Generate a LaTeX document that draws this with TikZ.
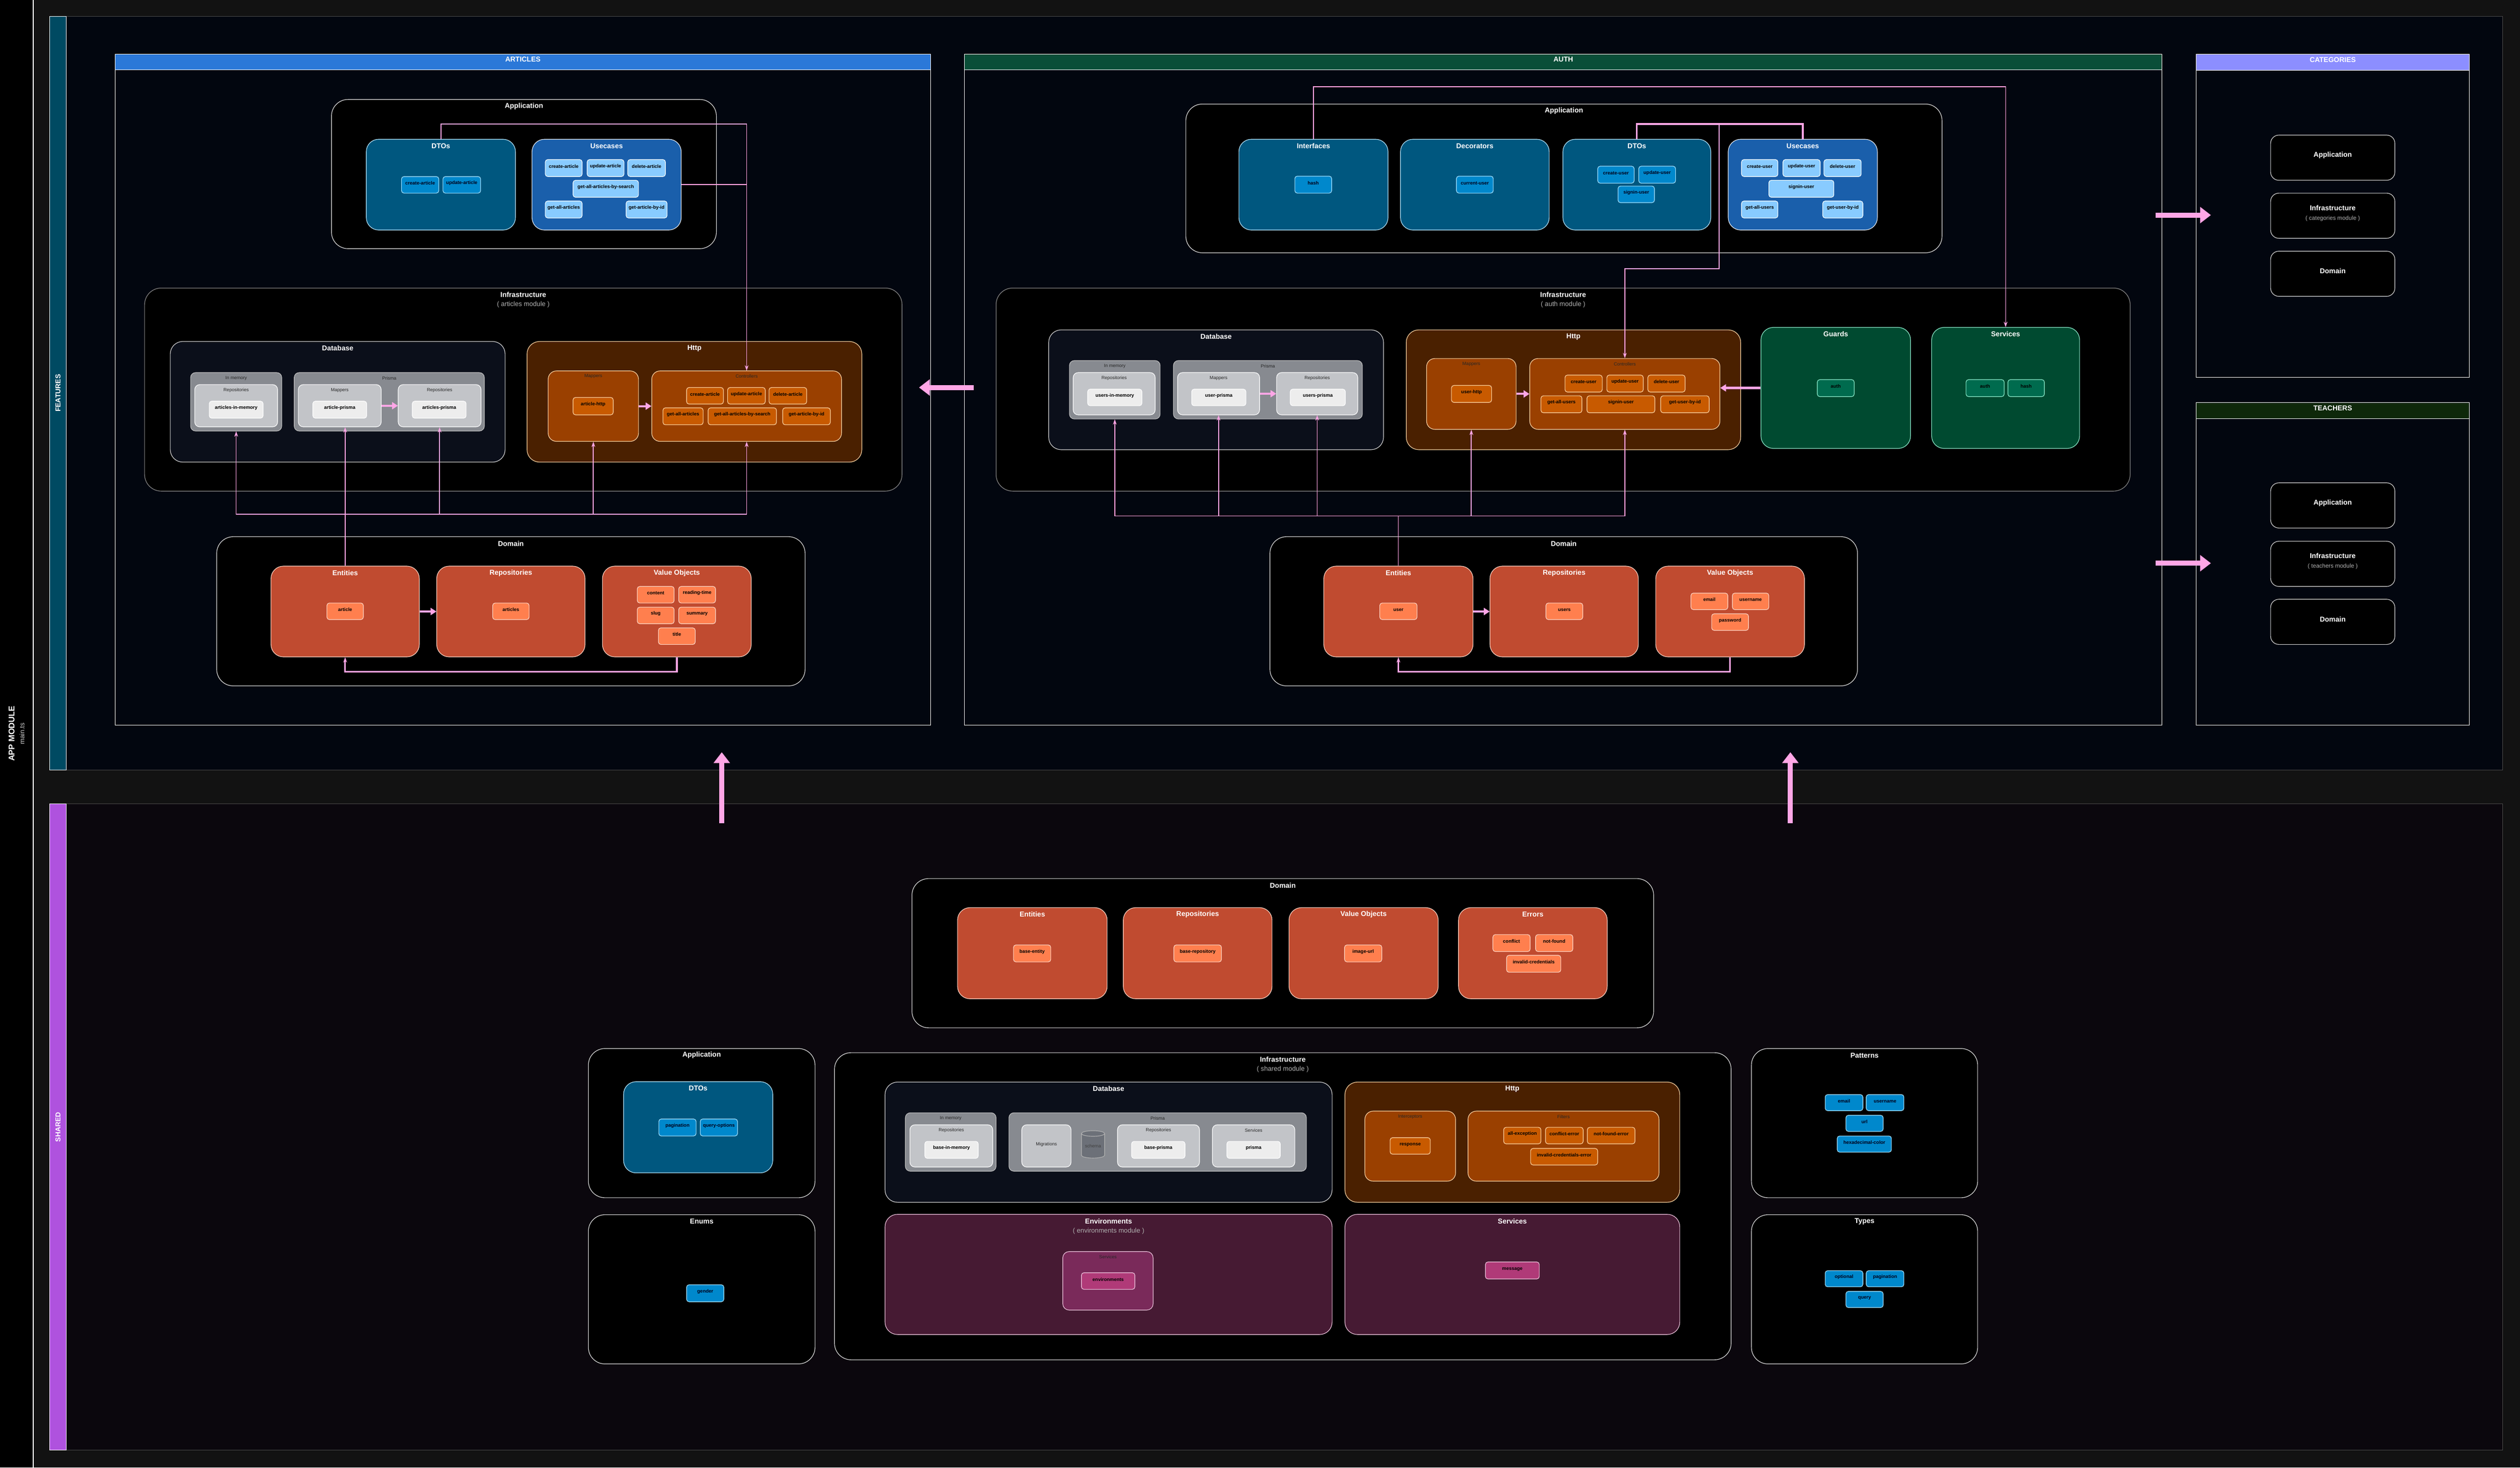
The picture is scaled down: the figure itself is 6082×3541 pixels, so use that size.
\documentclass[tikz,border=0pt]{standalone}
\usepackage{fontspec}
\setmainfont{Liberation Sans}
\usetikzlibrary{arrows.meta,fit,positioning,shapes.geometric}

\definecolor{outerC}{HTML}{121212}
\definecolor{featC}{HTML}{02060F}
\definecolor{featBC}{HTML}{004A62}
\definecolor{shC}{HTML}{0B070D}
\definecolor{shBC}{HTML}{AF52DE}
\definecolor{artC}{HTML}{2B78D8}
\definecolor{authC}{HTML}{0A4E38}
\definecolor{catC}{HTML}{8C8EFF}
\definecolor{teaC}{HTML}{0E280A}
\definecolor{subC}{HTML}{AFAFAF}
\definecolor{dtoC}{HTML}{00577F}
\definecolor{dtoIC}{HTML}{0088CC}
\definecolor{dtoL}{HTML}{A6E4FF}
\definecolor{ucC}{HTML}{1A5FAB}
\definecolor{ucIC}{HTML}{88CBFF}
\definecolor{dbC}{HTML}{0B0F1A}
\definecolor{dbMC}{HTML}{878A90}
\definecolor{dbLC}{HTML}{C2C4C8}
\definecolor{dbIC}{HTML}{EDEDED}
\definecolor{schC}{HTML}{6C7078}
\definecolor{htC}{HTML}{4A2000}
\definecolor{htMC}{HTML}{9A4000}
\definecolor{htIC}{HTML}{C85A00}
\definecolor{htL}{HTML}{FFD9A6}
\definecolor{doC}{HTML}{C04B30}
\definecolor{doIC}{HTML}{FF7F4E}
\definecolor{doL}{HTML}{FFD8C8}
\definecolor{grC}{HTML}{004A30}
\definecolor{grIC}{HTML}{006B4E}
\definecolor{grL}{HTML}{8FF0D0}
\definecolor{enC}{HTML}{461A33}
\definecolor{enMC}{HTML}{7A2A5A}
\definecolor{enIC}{HTML}{B03A78}
\definecolor{enL}{HTML}{F0C8E0}
\definecolor{pinkC}{HTML}{FFA6E6}

\newcommand{\fapp}{\fontsize{20}{22}\selectfont\bfseries}
\newcommand{\fhead}{\fontsize{17}{20}\selectfont\bfseries}
\newcommand{\ftitle}{\fontsize{17}{20}\selectfont\bfseries}
\newcommand{\fsub}{\fontsize{16}{19}\selectfont}
\newcommand{\fitem}{\fontsize{11.5}{13}\selectfont\bfseries}
\newcommand{\flab}{\fontsize{11}{13}\selectfont}

\begin{document}
\begin{tikzpicture}[
    x=1pt, y=-1pt,
    >={Stealth[length=13pt,width=9pt]},
    every node/.style={inner sep=0pt, font=\fitem, align=center},
    rbox/.style={draw, line width=1.4pt, rounded corners=#1},
    rbox/.default=30pt,
    hd/.style={label={[font=\ftitle, text=white, anchor=center, yshift=-17pt]north:{#1}}},
    hs/.style={label={[font=\fsub, text=subC, anchor=center, yshift=-41pt]north:{#1}}},
    hl/.style={label={[font=\flab, text=black!85, anchor=center, yshift=-14pt]north:{#1}}},
    frm/.style={draw=white, line width=1.4pt},
    hdr/.style={draw=white, line width=1.2pt, font=\fhead, text=white},
    sect/.style={rbox=40pt, fill=black, draw=white!90!black},
    isect/.style={sect, draw=white!55!black},
    cbox/.style={rbox=20pt, fill=black, draw=white!85!black, font=\fontsize{17}{23}\selectfont\bfseries, text=white},
    dtoB/.style={rbox, fill=dtoC, draw=dtoL!80},
    ucB/.style={rbox, fill=ucC, draw=white!90!ucC},
    dbB/.style={rbox, fill=dbC, draw=white!85!black},
    dbM/.style={rbox=12pt, fill=dbMC, draw=white!75!black},
    dbL/.style={rbox=12pt, fill=dbLC, draw=white},
    htB/.style={rbox, fill=htC, draw=htL},
    htM/.style={rbox=20pt, fill=htMC, draw=htL},
    doB/.style={rbox, fill=doC, draw=doL},
    grB/.style={rbox, fill=grC, draw=grL},
    enB/.style={rbox, fill=enC, draw=enL},
    enM/.style={rbox=15pt, fill=enMC, draw=enL},
    dItm/.style={rbox=6pt, fill=dtoIC, draw=dtoL, text=black!90!blue},
    uItm/.style={rbox=6pt, fill=ucIC, draw=white, text=black},
    bItm/.style={rbox=6pt, fill=dbIC, draw=white, text=black},
    hItm/.style={rbox=6pt, fill=htIC, draw=htL, text=black},
    oItm/.style={rbox=6pt, fill=doIC, draw=doL, text=black},
    gItm/.style={rbox=6pt, fill=grIC, draw=grL, text=black},
    eItm/.style={rbox=6pt, fill=enIC, draw=enL, text=black},
    conn/.style={draw=pinkC, line width=2pt},
    voLink/.style={conn, line width=4pt},
    flex/.style={draw=pinkC, line width=5pt, -{Triangle[length=14pt,width=17pt]}},
    big/.style={draw=pinkC, line width=12pt, -{Triangle[length=26pt,width=38pt]}}
]

% background and outer lanes
\fill[outerC] (0,0) rectangle (6082,3541);
\useasboundingbox (0,0) rectangle (6082,3541);
\node[fill=black, fit={(0,0)(80,3541)}] (appM) {};
\draw[white, line width=1.4pt] (appM.north east) -- (appM.south east);
\node[rotate=90, font=\fapp, text=white] at (28,1770) (appT) {APP MODULE};
\node[rotate=90, font=\fsub, text=white!80!black] at (53,1770) (appS) {main.ts};

\node[fill=featC, draw=white!30!black, line width=1pt, fit={(120,39)(6040,1858)}] (feat) {};
\node[fill=featBC, draw=white, line width=1pt, fit={(120,39)(160,1858)}] (featBand) {};
\node[rotate=90, font=\fhead, text=white] at (featBand) (featT) {FEATURES};

\node[fill=shC, draw=white!30!black, line width=1pt, fit={(120,1940)(6040,3499)}] (shr) {};
\node[fill=shBC, draw=white, line width=1pt, fit={(120,1940)(160,3499)}] (shrBand) {};
\node[rotate=90, font=\fhead, text=white] at (shrBand) (shrT) {SHARED};

% ---------------- articles ----------------
\node[frm, fit={(278,131)(2246,1750)}] (aFrm) {};
\node[hdr, fill=artC, fit={(278,131)(2246,168)}] (aHd) {ARTICLES};

\node[sect, hd=Application, fit={(800,240)(1729,600)}] (aApp) {};
\node[dtoB, hd=DTOs, fit={(884,336)(1244,555)}] (aDto) {};
\node[ucB, hd=Usecases, fit={(1284,336)(1644,555)}] (aUc) {};
\foreach \n/\t/\xa/\ya/\xb/\yb in {aDto1/create-article/969/426/1059/466,
        aDto2/update-article/1069/426/1160/466}
    \node[dItm, fit={(\xa,\ya)(\xb,\yb)}] (\n) {\t};
\foreach \n/\t/\xa/\ya/\xb/\yb in {aUc1/create-article/1316/385/1405/426,
        aUc2/update-article/1417/385/1506/426, aUc3/delete-article/1515/385/1606/426,
        aUc4/get-all-articles-by-search/1383/435/1541/476,
        aUc5/get-all-articles/1316/485/1405/526, aUc6/get-article-by-id/1511/485/1610/526}
    \node[uItm, fit={(\xa,\ya)(\xb,\yb)}] (\n) {\t};

\node[isect, hd=Infrastructure, hs={( articles module )}, fit={(349,695)(2177,1185)}] (aInf) {};
\node[dbB, hd=Database, fit={(411,824)(1219,1115)}] (aDb) {};
\node[dbM, hl=In memory, fit={(460,899)(680,1040)}] (aIm) {};
\node[dbL, hl=Repositories, fit={(470,928)(670,1030)}] (aImRepo) {};
\node[bItm, fit={(505,968)(635,1009)}] (aImI) {articles-in-memory};
\node[dbM, hl=Prisma, fit={(710,899)(1169,1040)}] (aPm) {};
\node[dbL, hl=Mappers, fit={(720,928)(920,1030)}] (aPmMap) {};
\node[bItm, fit={(755,968)(885,1009)}] (aPmMapI) {article-prisma};
\node[dbL, hl=Repositories, fit={(961,928)(1161,1030)}] (aPmRepo) {};
\node[bItm, fit={(995,968)(1125,1009)}] (aPmRepoI) {articles-prisma};

\node[htB, hd=Http, fit={(1272,824)(2080,1115)}] (aHttp) {};
\node[htM, hl=Mappers, fit={(1323,895)(1541,1065)}] (aHMap) {};
\node[hItm, fit={(1383,959)(1480,1001)}] (aHMapI) {article-http};
\node[htM, hl=Controllers, fit={(1573,895)(2031,1065)}] (aCtl) {};
\foreach \n/\t/\xa/\ya/\xb/\yb in {aCtl1/create-article/1657/935/1746/975,
        aCtl2/update-article/1756/935/1847/975, aCtl3/delete-article/1856/935/1947/975,
        aCtl4/get-all-articles/1600/984/1697/1025,
        aCtl5/get-all-articles-by-search/1709/984/1874/1025,
        aCtl6/get-article-by-id/1889/984/2004/1025}
    \node[hItm, fit={(\xa,\ya)(\xb,\yb)}] (\n) {\t};

\node[sect, hd=Domain, fit={(523,1295)(1943,1655)}] (aDom) {};
\node[doB, hd=Entities, fit={(654,1366)(1012,1585)}] (aEnt) {};
\node[doB, hd=Repositories, fit={(1054,1366)(1412,1585)}] (aRep) {};
\node[doB, hd=Value Objects, fit={(1454,1366)(1813,1585)}] (aVo) {};
\foreach \n/\t/\xa/\ya/\xb/\yb in {aEnt1/article/789/1455/877/1495,
        aRep1/articles/1189/1455/1277/1495,
        aVo1/content/1538/1415/1627/1455, aVo2/reading-time/1638/1415/1727/1455,
        aVo3/slug/1538/1465/1627/1505, aVo4/summary/1638/1465/1727/1505,
        aVo5/title/1589/1515/1678/1555}
    \node[oItm, fit={(\xa,\ya)(\xb,\yb)}] (\n) {\t};

% ---------------- auth ----------------
\node[frm, fit={(2328,131)(5218,1750)}] (uFrm) {};
\node[hdr, fill=authC, fit={(2328,131)(5218,168)}] (uHd) {AUTH};

\node[sect, hd=Application, fit={(2862,251)(4687,610)}] (uApp) {};
\node[dtoB, hd=Interfaces, fit={(2990,336)(3350,555)}] (uIf) {};
\node[dtoB, hd=Decorators, fit={(3380,336)(3739,555)}] (uDec) {};
\node[dtoB, hd=DTOs, fit={(3772,336)(4129,555)}] (uDto) {};
\node[ucB, hd=Usecases, fit={(4171,336)(4531,555)}] (uUc) {};
\foreach \n/\t/\xa/\ya/\xb/\yb in {uIf1/hash/3125/425/3214/466,
        uDec1/current-user/3515/425/3604/466,
        uDto1/create-user/3856/401/3944/442, uDto2/update-user/3955/401/4044/442,
        uDto3/signin-user/3905/449/3993/489}
    \node[dItm, fit={(\xa,\ya)(\xb,\yb)}] (\n) {\t};
\foreach \n/\t/\xa/\ya/\xb/\yb in {uUc1/create-user/4203/385/4291/426,
        uUc2/update-user/4303/385/4393/426, uUc3/delete-user/4402/385/4492/426,
        uUc4/signin-user/4269/435/4426/476,
        uUc5/get-all-users/4203/485/4291/526, uUc6/get-user-by-id/4399/485/4496/526}
    \node[uItm, fit={(\xa,\ya)(\xb,\yb)}] (\n) {\t};

\node[isect, hd=Infrastructure, hs={( auth module )}, fit={(2404,695)(5141,1185)}] (uInf) {};
\node[dbB, hd=Database, fit={(2531,796)(3339,1085)}] (uDb) {};
\node[dbM, hl=In memory, fit={(2581,870)(2800,1011)}] (uIm) {};
\node[dbL, hl=Repositories, fit={(2590,899)(2788,1001)}] (uImRepo) {};
\node[bItm, fit={(2625,939)(2756,979)}] (uImI) {users-in-memory};
\node[dbM, hl=Prisma, fit={(2832,870)(3288,1011)}] (uPm) {};
\node[dbL, hl=Mappers, fit={(2842,899)(3040,1001)}] (uPmMap) {};
\node[bItm, fit={(2876,939)(3007,979)}] (uPmMapI) {user-prisma};
\node[dbL, hl=Repositories, fit={(3081,899)(3277,1001)}] (uPmRepo) {};
\node[bItm, fit={(3114,939)(3247,979)}] (uPmRepoI) {users-prisma};

\node[htB, hd=Http, fit={(3394,796)(4201,1085)}] (uHttp) {};
\node[htM, hl=Mappers, fit={(3443,865)(3659,1036)}] (uHMap) {};
\node[hItm, fit={(3503,930)(3600,971)}] (uHMapI) {user-http};
\node[htM, hl=Controllers, fit={(3692,865)(4151,1036)}] (uCtl) {};
\foreach \n/\t/\xa/\ya/\xb/\yb in {uCtl1/create-user/3777/905/3867/946,
        uCtl2/update-user/3878/905/3966/946, uCtl3/delete-user/3977/905/4067/946,
        uCtl4/get-all-users/3719/955/3818/996, uCtl5/signin-user/3830/955/3994/996,
        uCtl6/get-user-by-id/4008/955/4125/996}
    \node[hItm, fit={(\xa,\ya)(\xb,\yb)}] (\n) {\t};

\node[grB, hd=Guards, fit={(4250,790)(4611,1082)}] (uGrd) {};
\node[grB, hd=Services, fit={(4662,790)(5019,1082)}] (uSrv) {};
\foreach \n/\t/\xa/\ya/\xb/\yb in {uGrd1/auth/4386/916/4475/957,
        uSrv1/auth/4745/916/4837/957, uSrv2/hash/4846/916/4934/957}
    \node[gItm, fit={(\xa,\ya)(\xb,\yb)}] (\n) {\t};

\node[sect, hd=Domain, fit={(3065,1295)(4483,1655)}] (uDom) {};
\node[doB, hd=Entities, fit={(3195,1366)(3555,1585)}] (uEnt) {};
\node[doB, hd=Repositories, fit={(3596,1366)(3954,1585)}] (uRep) {};
\node[doB, hd=Value Objects, fit={(3996,1366)(4355,1585)}] (uVo) {};
\foreach \n/\t/\xa/\ya/\xb/\yb in {uEnt1/user/3330/1455/3420/1495,
        uRep1/users/3731/1455/3820/1495,
        uVo1/email/4081/1431/4170/1471, uVo2/username/4181/1431/4269/1471,
        uVo3/password/4131/1481/4220/1521}
    \node[oItm, fit={(\xa,\ya)(\xb,\yb)}] (\n) {\t};

% ---------------- categories / teachers ----------------
\node[frm, fit={(5300,131)(5960,910)}] (cFrm) {};
\node[hdr, fill=catC, fit={(5300,131)(5960,170)}] (cHd) {CATEGORIES};
\node[cbox, fit={(5480,326)(5780,435)}] (cApp) {Application};
\node[cbox, fit={(5480,466)(5780,575)}] (cInf) {Infrastructure\\{\fontsize{14}{16}\selectfont\mdseries\color{subC}( categories module )}};
\node[cbox, fit={(5480,606)(5780,715)}] (cDom) {Domain};

\node[frm, fit={(5300,971)(5960,1750)}] (tFrm) {};
\node[hdr, fill=teaC, fit={(5300,971)(5960,1010)}] (tHd) {TEACHERS};
\node[cbox, fit={(5480,1165)(5780,1274)}] (tApp) {Application};
\node[cbox, fit={(5480,1306)(5780,1415)}] (tInf) {Infrastructure\\{\fontsize{14}{16}\selectfont\mdseries\color{subC}( teachers module )}};
\node[cbox, fit={(5480,1446)(5780,1555)}] (tDom) {Domain};

% ---------------- shared ----------------
\node[sect, hd=Domain, fit={(2201,2120)(3991,2480)}] (sDom) {};
\node[doB, hd=Entities, fit={(2311,2190)(2672,2410)}] (sEnt) {};
\node[doB, hd=Repositories, fit={(2711,2190)(3070,2410)}] (sRep) {};
\node[doB, hd=Value Objects, fit={(3111,2190)(3471,2410)}] (sVo) {};
\node[doB, hd=Errors, fit={(3520,2190)(3879,2410)}] (sErr) {};
\foreach \n/\t/\xa/\ya/\xb/\yb in {sEnt1/base-entity/2446/2280/2536/2321,
        sRep1/base-repository/2833/2280/2948/2321,
        sVo1/image-url/3245/2280/3335/2321,
        sErr1/conflict/3603/2255/3693/2296, sErr2/not-found/3706/2255/3796/2296,
        sErr3/invalid-credentials/3636/2305/3767/2346}
    \node[oItm, fit={(\xa,\ya)(\xb,\yb)}] (\n) {\t};

\node[sect, hd=Application, fit={(1420,2530)(1967,2890)}] (sApp) {};
\node[dtoB, hd=DTOs, fit={(1505,2610)(1865,2830)}] (sDto) {};
\node[sect, hd=Enums, fit={(1420,2931)(1967,3291)}] (sEnm) {};
\node[sect, hd=Patterns, fit={(4227,2530)(4773,2890)}] (sPat) {};
\node[sect, hd=Types, fit={(4227,2931)(4773,3291)}] (sTyp) {};
\foreach \n/\t/\xa/\ya/\xb/\yb in {sDto1/pagination/1590/2700/1680/2741,
        sDto2/query-options/1690/2700/1780/2741,
        sEnm1/gender/1657/3100/1747/3141,
        sPat1/email/4405/2641/4496/2680, sPat2/username/4504/2641/4595/2680,
        sPat3/url/4455/2691/4545/2730, sPat4/hexadecimal-color/4434/2741/4565/2780,
        sTyp1/optional/4405/3066/4496/3105, sTyp2/pagination/4504/3066/4595/3105,
        sTyp3/query/4455/3116/4545/3155}
    \node[dItm, fit={(\xa,\ya)(\xb,\yb)}] (\n) {\t};

\node[sect, hd=Infrastructure, hs={( shared module )}, fit={(2014,2540)(4178,3281)}] (sInf) {};
\node[dbB, hd=Database, fit={(2136,2611)(3215,2901)}] (sDb) {};
\node[dbM, hl=In memory, fit={(2185,2685)(2404,2826)}] (sIm) {};
\node[dbL, hl=Repositories, fit={(2196,2714)(2396,2816)}] (sImRepo) {};
\node[bItm, fit={(2232,2754)(2361,2795)}] (sImI) {base-in-memory};
\node[dbM, hl=Prisma, fit={(2435,2685)(3153,2826)}] (sPm) {};
\node[dbL, font=\flab, text=black!85, fit={(2466,2714)(2585,2816)}] (sMig) {Migrations};
\node[cylinder, shape border rotate=90, aspect=0.35, draw=white!70!black, fill=schC,
    line width=1.4pt, minimum width=56pt, minimum height=66pt, font=\flab, text=black!75]
    at (2638,2765) (sSch) {schema};
\node[dbL, hl=Repositories, fit={(2697,2714)(2895,2816)}] (sPmRepo) {};
\node[bItm, fit={(2731,2754)(2860,2795)}] (sPmRepoI) {base-prisma};
\node[dbL, hl=Services, fit={(2926,2714)(3125,2816)}] (sPmSrv) {};
\node[bItm, fit={(2961,2754)(3090,2795)}] (sPmSrvI) {prisma};

\node[htB, hd=Http, fit={(3246,2611)(4054,2901)}] (sHttp) {};
\node[htM, hl=Interceptors, fit={(3294,2681)(3513,2850)}] (sInt) {};
\node[hItm, fit={(3355,2745)(3452,2785)}] (sInt1) {response};
\node[htM, hl=Filters, fit={(3543,2681)(4004,2850)}] (sFlt) {};
\foreach \n/\t/\xa/\ya/\xb/\yb in {sFlt1/all-exception/3629/2720/3719/2760,
        sFlt2/conflict-error/3730/2720/3821/2760, sFlt3/not-found-error/3831/2720/3946/2760,
        sFlt4/invalid-credentials-error/3694/2771/3856/2811}
    \node[hItm, fit={(\xa,\ya)(\xb,\yb)}] (\n) {\t};

\node[enB, hd=Environments, hs={( environments module )}, fit={(2136,2930)(3215,3220)}] (sEnv) {};
\node[enM, hl=Services, fit={(2565,3020)(2783,3161)}] (sEnvSrv) {};
\node[eItm, fit={(2610,3071)(2739,3111)}] (sEnvI) {environments};
\node[enB, hd=Services, fit={(3246,2930)(4054,3220)}] (sSrv) {};
\node[eItm, fit={(3585,3045)(3715,3086)}] (sSrvI) {message};

% ---------------- connectors ----------------
% articles
\draw[conn, ->] (aDto.north) -- ++(0,-36) -| (aCtl.north);
\draw[conn] (aUc.east) -| (aCtl.north);
\coordinate (aBus) at (0,1241);
\draw[conn, ->] (aEnt.north) -- (aEnt.north |- aPmMap.south);
\foreach \t in {aIm, aPmRepo, aHMap, aCtl}
    \draw[conn, ->] (aEnt.north) -- (aEnt.north |- aBus) -| (\t.south);
\draw[voLink, ->] (aVo.south) -- ++(0,35) -| (aEnt.south);
\draw[flex] (aEnt.east) -- (aRep.west);
\draw[flex] (aPmMap.east) -- (aPmRepo.west);
\draw[flex] (aHMap.east) -- (aHMap.east -| aCtl.west);

% auth
\draw[conn, ->] (uIf.north) -- ++(0,-126) -| (uSrv.north);
\draw[voLink] (uDto.north) -- ++(0,-36) -| (uUc.north);
\coordinate (uJoin) at (4149,300);
\draw[conn, ->] (uJoin) -- ++(0,348) -| (uCtl.north);
\coordinate (uBus) at (0,1245);
\foreach \t in {uIm, uPmMap, uPmRepo, uHMap, uCtl}
    \draw[conn, ->] (uEnt.north) -- (uEnt.north |- uBus) -| (\t.south);
\draw[voLink, ->] (uVo.south) -- ++(0,35) -| (uEnt.south);
\draw[flex] (uEnt.east) -- (uRep.west);
\draw[flex] (uPmMap.east) -- (uPmRepo.west);
\draw[flex] (uHMap.east) -- (uHMap.east -| uCtl.west);
\draw[flex] (uGrd.west) -- (uGrd.west -| uCtl.east);

% big arrows between modules
\coordinate (uOut) at (2350,935);  \coordinate (aIn) at (2218,935);
\coordinate (cOut) at (5202,519);  \coordinate (cIn) at (5336,519);
\coordinate (tOut) at (5202,1359); \coordinate (tIn) at (5336,1359);
\coordinate (sOut1) at (1742,1986); \coordinate (fIn1) at (1742,1815);
\coordinate (sOut2) at (4321,1986); \coordinate (fIn2) at (4321,1815);
\foreach \a/\b in {uOut/aIn, cOut/cIn, tOut/tIn, sOut1/fIn1, sOut2/fIn2}
    \draw[big] (\a) -- (\b);

\end{tikzpicture}
\end{document}
